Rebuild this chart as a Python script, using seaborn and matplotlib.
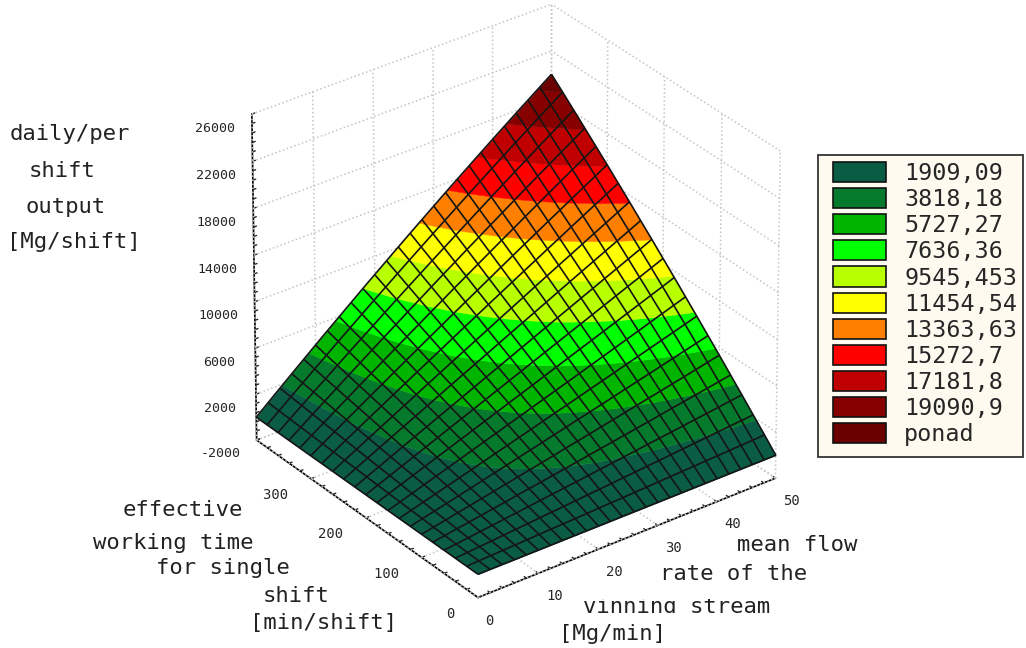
import numpy as np
import matplotlib
matplotlib.use("Agg")
import matplotlib.pyplot as plt
import seaborn as sns
from matplotlib.patches import Patch, Rectangle
from matplotlib.transforms import Bbox
from mpl_toolkits.mplot3d.art3d import Poly3DCollection

# axis values
rate_values = [0, 2, 4, 6, 8, 10, 12, 14, 16, 18, 20, 22, 24, 26, 28, 30, 32, 34, 36, 38, 40, 42, 44, 46, 48, 50]
time_values = [0, 20, 40, 60, 80, 100, 120, 140, 160, 180, 200, 220, 240, 260, 280, 300, 320, 340, 360, 380, 400]

# output per shift, one row per time value, estimated from where the bands sit
output_rows = [
    [0] * 26,
    [0, 40, 80, 120, 160, 200, 250, 290, 330, 370, 410, 460, 500, 540, 590, 630, 680, 720, 770, 810, 860, 900, 950, 990, 1040, 1090],
    [0, 80, 160, 240, 330, 410, 490, 580, 660, 750, 830, 920, 1000, 1090, 1180, 1260, 1350, 1440, 1530, 1620, 1710, 1800, 1890, 1980, 2070, 2160],
    [0, 120, 240, 370, 490, 620, 740, 870, 990, 1120, 1250, 1370, 1500, 1630, 1760, 1890, 2020, 2160, 2290, 2420, 2550, 2690, 2820, 2960, 3090, 3230],
    [0, 160, 330, 490, 660, 820, 990, 1160, 1330, 1490, 1660, 1830, 2000, 2180, 2350, 2520, 2690, 2870, 3040, 3220, 3400, 3570, 3750, 3930, 4110, 4290],
    [0, 200, 410, 620, 820, 1030, 1240, 1450, 1660, 1870, 2080, 2290, 2510, 2720, 2930, 3150, 3360, 3580, 3800, 4020, 4230, 4450, 4670, 4890, 5120, 5340],
    [0, 250, 490, 740, 990, 1240, 1490, 1740, 1990, 2250, 2500, 2750, 3010, 3260, 3520, 3770, 4030, 4290, 4550, 4810, 5070, 5330, 5590, 5850, 6110, 6380],
    [0, 290, 580, 870, 1160, 1450, 1740, 2040, 2330, 2620, 2920, 3210, 3510, 3810, 4100, 4400, 4700, 5000, 5300, 5600, 5900, 6200, 6500, 6800, 7110, 7410],
    [0, 330, 660, 1000, 1330, 1660, 2000, 2330, 2670, 3000, 3340, 3670, 4010, 4350, 4690, 5020, 5360, 5700, 6040, 6380, 6720, 7060, 7410, 7750, 8090, 8430],
    [0, 370, 750, 1130, 1500, 1880, 2250, 2630, 3000, 3380, 3760, 4140, 4510, 4890, 5270, 5650, 6030, 6410, 6780, 7160, 7540, 7920, 8300, 8680, 9060, 9450],
    [0, 420, 840, 1250, 1670, 2090, 2510, 2930, 3340, 3760, 4180, 4600, 5020, 5430, 5850, 6270, 6690, 7110, 7520, 7940, 8360, 8780, 9200, 9610, 10030, 10450],
    [0, 460, 920, 1380, 1850, 2310, 2770, 3230, 3680, 4140, 4600, 5060, 5520, 5980, 6430, 6890, 7350, 7810, 8260, 8720, 9170, 9630, 10080, 10540, 10990, 11450],
    [0, 510, 1010, 1520, 2020, 2520, 3020, 3520, 4030, 4530, 5030, 5520, 6020, 6520, 7020, 7510, 8010, 8500, 9000, 9490, 9980, 10470, 10960, 11450, 11940, 12430],
    [0, 550, 1100, 1650, 2190, 2740, 3280, 3830, 4370, 4910, 5450, 5990, 6520, 7060, 7600, 8130, 8660, 9200, 9730, 10260, 10780, 11310, 11840, 12360, 12890, 13410],
    [0, 590, 1190, 1780, 2370, 2960, 3540, 4130, 4710, 5290, 5870, 6450, 7030, 7600, 8180, 8750, 9320, 9890, 10450, 11020, 11580, 12150, 12710, 13270, 13820, 14380],
    [0, 640, 1280, 1910, 2550, 3180, 3800, 4430, 5060, 5680, 6300, 6910, 7530, 8140, 8750, 9360, 9970, 10580, 11180, 11780, 12380, 12970, 13570, 14160, 14750, 15340],
    [0, 690, 1370, 2050, 2720, 3400, 4070, 4740, 5400, 6060, 6720, 7380, 8030, 8690, 9330, 9980, 10620, 11260, 11900, 12540, 13170, 13800, 14430, 15050, 15670, 16290],
    [0, 730, 1460, 2180, 2900, 3620, 4330, 5040, 5750, 6450, 7150, 7840, 8540, 9230, 9910, 10600, 11270, 11950, 12620, 13290, 13960, 14620, 15280, 15930, 16580, 17230],
    [0, 780, 1550, 2320, 3080, 3840, 4600, 5350, 6090, 6840, 7580, 8310, 9040, 9770, 10490, 11210, 11920, 12630, 13340, 14040, 14740, 15430, 16120, 16800, 17490, 18160],
    [0, 820, 1640, 2450, 3260, 4060, 4860, 5650, 6440, 7230, 8000, 8780, 9550, 10310, 11070, 11820, 12570, 13310, 14050, 14790, 15520, 16240, 16960, 17670, 18380, 19090],
    [0, 870, 1730, 2590, 3440, 4290, 5130, 5960, 6790, 7620, 8430, 9240, 10050, 10850, 11640, 12430, 13220, 13990, 14760, 15530, 16290, 17040, 17790, 18530, 19270, 20000],
]

# legend / band levels
band_levels = [1909.09, 3818.18, 5727.27, 7636.36, 9545.453, 11454.54, 13363.63, 15272.7, 17181.8, 19090.9]
band_labels = ["1909,09", "3818,18", "5727,27", "7636,36", "9545,453", "11454,54", "13363,63", "15272,7", "17181,8", "19090,9", "ponad"]
band_colors = ["#0a5c44", "#067a2c", "#00b400", "#00ff00", "#b8ff00", "#ffff00", "#ff8000", "#ff0000", "#c00000", "#860000", "#6a0000"]

z_ticks = [-2000, 2000, 6000, 10000, 14000, 18000, 22000, 26000]
time_ticks = [0, 100, 200, 300, 400]
rate_ticks = [0, 10, 20, 30, 40, 50]

sns.set_theme(style="white")
palette = sns.color_palette(band_colors)
MONO = "DejaVu Sans Mono"

X, Y = np.meshgrid(rate_values, time_values)
Z = np.array(output_rows, dtype=float)
rates = np.array(rate_values, dtype=float)
times = np.array(time_values, dtype=float)


def surface_height(px, py):
    # bilinear lookup in the table
    i = np.clip(np.searchsorted(times, py) - 1, 0, len(times) - 2)
    j = np.clip(np.searchsorted(rates, px) - 1, 0, len(rates) - 2)
    ty = (py - times[i]) / (times[i + 1] - times[i])
    tx = (px - rates[j]) / (rates[j + 1] - rates[j])
    return (Z[i, j] * (1 - tx) * (1 - ty) + Z[i, j + 1] * tx * (1 - ty)
            + Z[i + 1, j] * (1 - tx) * ty + Z[i + 1, j + 1] * tx * ty)


# get the band outlines from a throwaway 2d contour
tmp_fig, tmp_ax = plt.subplots()
bands = tmp_ax.contourf(X, Y, Z, levels=[-1] + band_levels + [21000])
band_polys = [path.to_polygons(closed_only=True) for path in bands.get_paths()]
plt.close(tmp_fig)

fig = plt.figure(figsize=(10.26, 6.48), dpi=100, facecolor="white")
side = 648
ax = fig.add_axes([(506.5 - side / 2) / 1026, (342 - side / 2) / 648, side / 1026, side / 648], projection="3d")
ax.set_proj_type("persp", focal_length=3)
ax.view_init(elev=30.6, azim=-127)
ax.set_box_aspect((1, 1, 1.015), zoom=0.975)
ax.computed_zorder = False
ax.patch.set_alpha(0)

ax.set_xlim(0, 50, view_margin=0)
ax.set_ylim(0, 400, view_margin=0)
ax.set_zlim(-2000, 26000, view_margin=0)

for axis in (ax.xaxis, ax.yaxis, ax.zaxis):
    axis.pane.set_visible(False)
    axis.line.set_color("black")
    axis.line.set_linewidth(1.2)
    axis._axinfo["tick"]["inward_factor"] = 0.0
    axis._axinfo["tick"]["outward_factor"] = 0.12
    axis._axinfo["tick"]["linewidth"] = {True: 1.0, False: 1.0}
ax.grid(False)

# dense ticks like the original, labels only on the big ones
# (the newlines nudge the labels up or down, va is ignored on 3d tick labels)
ax.set_xticks(rate_values)
ax.set_xticklabels([f"{v}\n" if v in rate_ticks else "" for v in rate_values], family=MONO, fontsize=10, ha="left")
ax.set_yticks(time_values)
ax.set_yticklabels([f"{v}  \n" if v in time_ticks[:-1] else "" for v in time_values], family=MONO, fontsize=10, ha="right")
z_minor = np.arange(z_ticks[0], z_ticks[-1] + 1, 800)
ax.set_zticks(z_minor)
ax.set_zticklabels([f"\n{int(v)}" if int(v) in z_ticks else "" for v in z_minor], family=MONO, fontsize=9.5, linespacing=0.7)
ax.tick_params(axis="x", pad=0)
ax.tick_params(axis="y", pad=-3)
ax.tick_params(axis="z", pad=9)

# dotted grid on the back walls and the floor
grid_style = dict(color="#c4c4c4", linestyle=":", linewidth=1.1, zorder=1)
for z in z_ticks:
    ax.plot([0, 50], [400, 400], [z, z], **grid_style)
    ax.plot([50, 50], [0, 400], [z, z], **grid_style)
for x in rate_ticks:
    ax.plot([x, x], [400, 400], [z_ticks[0], z_ticks[-1]], **grid_style)
    ax.plot([x, x], [0, 400], [z_ticks[0], z_ticks[0]], **grid_style)
for y in time_ticks:
    ax.plot([50, 50], [y, y], [z_ticks[0], z_ticks[-1]], **grid_style)
    ax.plot([0, 50], [y, y], [z_ticks[0], z_ticks[0]], **grid_style)

# coloured bands lying on the surface
for polys, color in zip(band_polys, palette):
    verts = []
    for poly in polys:
        pz = np.array([surface_height(px, py) for px, py in poly])
        verts.append(np.column_stack([poly, pz]))
    if verts:
        ax.add_collection3d(Poly3DCollection(verts, facecolors=[color], edgecolors=[color], linewidths=0.3, zorder=2))

ax.plot_wireframe(X, Y, Z, color="#151515", linewidth=1.2, zorder=3)


def put_text(x, y, txt, **kw):
    # x, y in reference pixels (y down)
    return fig.text(x / 1026, 1 - y / 648, txt, family=MONO, fontsize=16, color="#222222", va="center", ha="center", **kw)


put_text(70, 134, "daily/per")
put_text(62, 171, "shift")
put_text(66, 207, "output")
put_text(74, 242, "[Mg/shift]")

put_text(183, 510, "effective")
put_text(173, 543, "working time")
put_text(223, 568, "for single")
put_text(296, 596, "shift")
put_text(324, 623, "[min/shift]")

put_text(797, 545, "mean flow")
put_text(734, 574, "rate of the")
clipped = put_text(677, 607, "vinning stream")
# the original cuts this line off top and bottom
clipped.set_clip_box(Bbox.from_extents(0, 648 - 613, 1026, 648 - 599))
clipped.set_clip_on(True)
put_text(613, 634, "[Mg/min]")

# legend frame is its own box, the entries sit inside it
fig.add_artist(Rectangle((818 / 1026, 1 - 457 / 648), 205 / 1026, 302 / 648, transform=fig.transFigure,
                         facecolor="#fffaf0", edgecolor="#333333", linewidth=1.3))
handles = [Patch(facecolor=c, edgecolor="#111111", linewidth=1.2) for c in palette]
leg = fig.legend(handles, band_labels, loc="upper left", bbox_to_anchor=(826 / 1026, 1 - 155 / 648),
                 frameon=False, prop={"family": MONO, "size": 16.8}, handlelength=2.25, handleheight=0.95,
                 labelspacing=0.13, borderpad=0.3, handletextpad=0.8, borderaxespad=0)
leg.set_zorder(5)

fig.savefig("out.png", dpi=100)
